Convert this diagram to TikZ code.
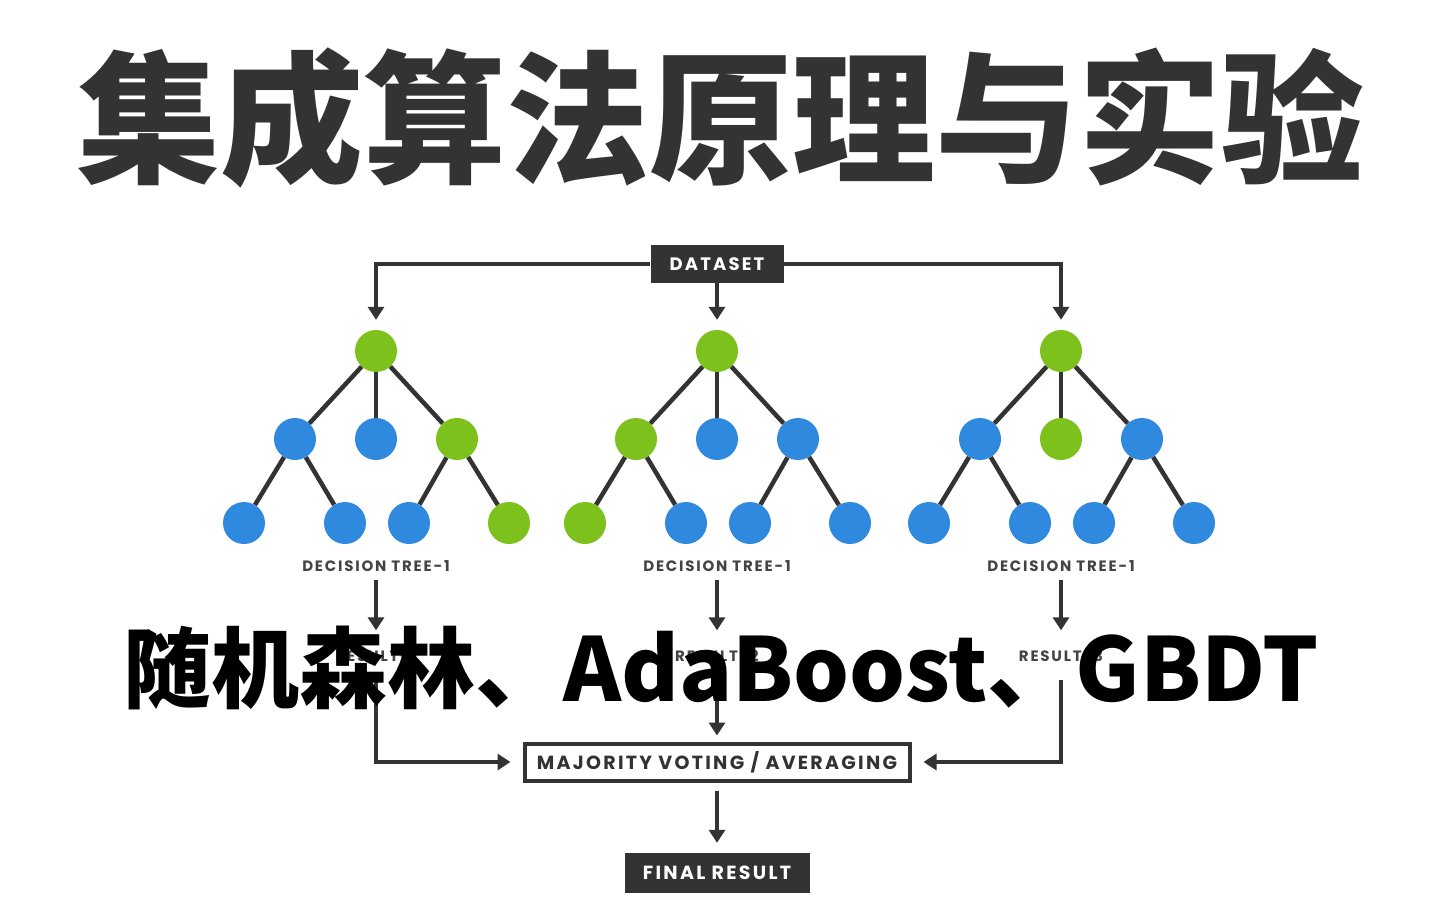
\documentclass[tikz,border=0pt]{standalone}
\usepackage{fontspec}
\newfontfamily\cjk{Noto Sans CJK SC}
\newfontfamily\labfont{Poppins}[LetterSpace=12]
\usetikzlibrary{arrows.meta}
\definecolor{dk}{HTML}{333333}
\definecolor{lblc}{HTML}{444444}
\definecolor{grn}{HTML}{7DC11C}
\definecolor{blu}{HTML}{2F89DF}
\tikzset{
  leaf/.style={circle, minimum size=42pt, inner sep=0pt},
  gn/.style={leaf, fill=grn},
  bn/.style={leaf, fill=blu},
  edge/.style={draw=dk, line width=4.5pt},
  arr/.style={draw=dk, line width=4pt, -{Triangle[width=16pt,length=13pt]}},
  darkbox/.style={fill=dk, text=white, inner sep=0pt, font=\labfont\bfseries\fontsize{18}{18}\selectfont},
  lbl/.style={text=lblc, inner sep=0pt, text height=11pt, text depth=0pt, font=\labfont\bfseries\fontsize{15}{15}\selectfont},
}
\newcommand\drawtree[9]{%
  \node[gn] (#1r) at (#2,351) {};
  \node[#3] (#1a) at ({#2-81},439) {};
  \node[#4] (#1b) at (#2,439) {};
  \node[#5] (#1c) at ({#2+81},439) {};
  \node[#6] (#1p) at ({#2-132},523) {};
  \node[#7] (#1q) at ({#2-31},523) {};
  \node[#8] (#1s) at ({#2+33},523) {};
  \node[#9] (#1t) at ({#2+133},523) {};
  \draw[edge] (#1r) -- (#1a);
  \draw[edge] (#1r) -- (#1b);
  \draw[edge] (#1r) -- (#1c);
  \draw[edge] (#1a) -- (#1p);
  \draw[edge] (#1a) -- (#1q);
  \draw[edge] (#1c) -- (#1s);
  \draw[edge] (#1c) -- (#1t);
}
\begin{document}
\begin{tikzpicture}[x=1pt,y=-1pt]
\useasboundingbox[fill=white] (0,0) rectangle (1440,900);

% title
\node[text=dk, inner sep=0pt, font=\cjk\bfseries\fontsize{143}{143}\selectfont] (title) at (721,118) {集成算法原理与实验};

% dataset
\node[darkbox, minimum width=133pt, minimum height=38pt] (ds) at (717,264) {DATASET};

% trees
\drawtree{t1}{376}{bn}{bn}{gn}{bn}{bn}{bn}{gn}
\drawtree{t2}{717}{gn}{bn}{bn}{gn}{bn}{bn}{bn}
\drawtree{t3}{1061}{bn}{gn}{bn}{bn}{bn}{bn}{bn}

\draw[arr, shorten >=10pt] (ds.west) -| (t1r);
\draw[arr, shorten >=10pt] (ds.south) -- (t2r);
\draw[arr, shorten >=10pt] (ds.east) -| (t3r);

% labels
\node[lbl] (d1) at (376,566) {DECISION TREE-1};
\node[lbl] (d2) at (717,566) {DECISION TREE-1};
\node[lbl] (d3) at (1061,566) {DECISION TREE-1};
\node[lbl] (r1) at (376,656) {RESULT-1};
\node[lbl] (r2) at (717,656) {RESULT-2};
\node[lbl] (r3) at (1061,656) {RESULT-3};

\draw[arr, shorten <=8pt, shorten >=20pt] (d1.south) -- (r1.north);
\draw[arr, shorten <=8pt, shorten >=20pt] (d2.south) -- (r2.north);
\draw[arr, shorten <=8pt, shorten >=20pt] (d3.south) -- (r3.north);

% voting box
\node[draw=dk, line width=4pt, fill=white, text=dk, inner sep=0pt, minimum width=385pt, minimum height=37pt,
      font=\labfont\bfseries\fontsize{19}{19}\selectfont] (mv) at (717,762) {MAJORITY VOTING / AVERAGING};

\draw[arr, shorten <=18pt, shorten >=12pt] (r1.south) |- (mv.west);
\draw[arr, shorten <=18pt, shorten >=6pt] (r2.south) -- (mv.north);
\draw[arr, shorten <=18pt, shorten >=12pt] (r3.south) |- (mv.east);

% final
\node[darkbox, minimum width=185pt, minimum height=40pt, font=\labfont\bfseries\fontsize{19}{19}\selectfont] (fr) at (717,873) {FINAL RESULT};
\draw[arr, shorten <=8pt, shorten >=10pt] (mv.south) -- (fr.north);

% subtitle overlay
\node[text=black, inner sep=0pt, font=\cjk\bfseries\fontsize{88}{88}\selectfont] (sub) at (721,668) {随机森林、AdaBoost、GBDT};
\end{tikzpicture}
\end{document}
